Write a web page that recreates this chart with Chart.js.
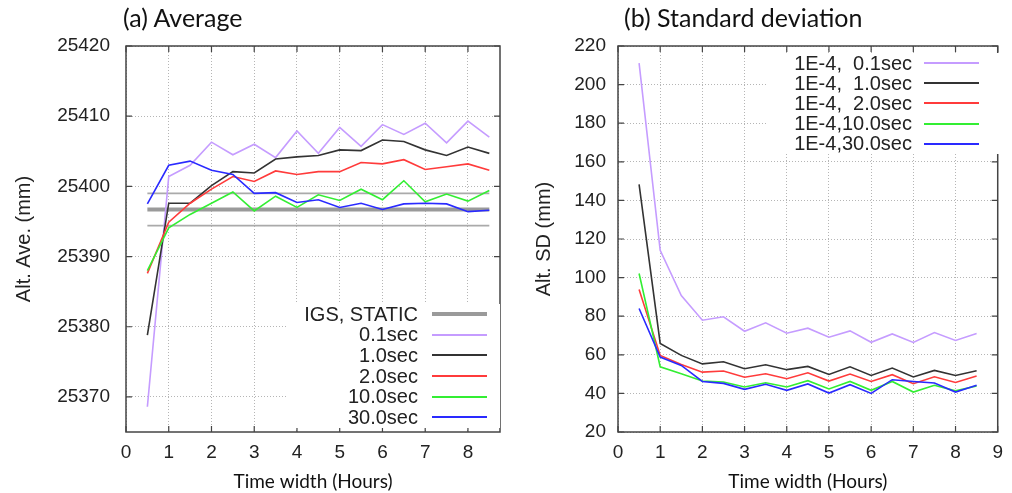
<!DOCTYPE html>
<html>
<head>
<meta charset="utf-8">
<script src="https://cdn.jsdelivr.net/npm/chart.js@4.4.1/dist/chart.umd.min.js"></script>
<style>
body { margin: 0; background: #fff; }
#wrap { position: relative; width: 1012px; height: 493px; overflow: hidden; }
canvas { position: absolute; top: 0; }
.ttl { position: absolute; top: 2px; font-family: Lato, sans-serif; font-size: 25px; color: #111; white-space: pre; }
.key { position: absolute; background: #fff; font-family: "Liberation Sans", sans-serif; font-size: 20px; color: #222; }
.key .row { display: flex; align-items: center; justify-content: flex-end; }
.key .t { white-space: pre; }
.key .l { display: inline-block; width: 55px; }
</style>
</head>
<body>
<div id="wrap">
  <canvas id="aveChart" style="left:0" width="506" height="493"></canvas>
  <canvas id="sdChart" style="left:506px" width="506" height="493"></canvas>
  <div class="ttl" style="left:123px">(a) Average</div>
  <div class="ttl" style="left:624px">(b) Standard deviation</div>
  <div class="key" id="aveKey" style="left:288px;top:304px;width:212px"></div>
  <div class="key" id="sdKey" style="left:766px;top:53px;width:236px"></div>
</div>
<script>
// time widths (hours)
const hours = [0.5, 1, 1.5, 2, 2.5, 3, 3.5, 4, 4.5, 5, 5.5, 6, 6.5, 7, 7.5, 8, 8.5];
const aveHourTicks = [0, 1, 2, 3, 4, 5, 6, 7, 8];
const sdHourTicks = [0, 1, 2, 3, 4, 5, 6, 7, 8, 9];
const igsSpan = [0.5, 8.5];
const igsLevels = [25396.7, 25399.0, 25394.4]; // mean, upper, lower

// (a) average altitude, mm
const ave01 = [25368.6, 25401.4, 25403.0, 25406.3, 25404.5, 25406.0, 25404.1, 25407.9, 25404.7, 25408.4, 25405.7, 25408.8, 25407.4, 25409.0, 25406.2, 25409.3, 25407.0];
const ave10 = [25378.8, 25397.6, 25397.6, 25400.1, 25402.1, 25401.9, 25403.9, 25404.2, 25404.4, 25405.2, 25405.1, 25406.6, 25406.4, 25405.2, 25404.4, 25405.6, 25404.7];
const ave20 = [25387.6, 25394.9, 25397.6, 25399.6, 25401.4, 25400.7, 25402.2, 25401.7, 25402.1, 25402.1, 25403.4, 25403.2, 25403.8, 25402.4, 25402.8, 25403.2, 25402.3];
const ave100 = [25388.0, 25394.1, 25396.0, 25397.6, 25399.2, 25396.5, 25398.6, 25397.0, 25398.8, 25398.0, 25399.6, 25398.1, 25400.8, 25397.8, 25398.9, 25397.9, 25399.4];
const ave300 = [25397.5, 25403.0, 25403.6, 25402.3, 25401.7, 25399.0, 25399.1, 25397.7, 25398.1, 25397.0, 25397.6, 25396.7, 25397.5, 25397.6, 25397.5, 25396.4, 25396.6];

// (b) standard deviation, mm
const sd01 = [211.1, 114.1, 90.7, 77.9, 79.7, 72.2, 76.6, 71.2, 73.8, 69.1, 72.4, 66.5, 70.8, 66.4, 71.5, 67.4, 71.0];
const sd10 = [148.3, 65.9, 59.7, 55.3, 56.4, 52.8, 54.8, 52.3, 54.0, 49.8, 53.8, 49.3, 53.1, 48.5, 51.9, 49.3, 51.7];
const sd20 = [93.8, 59.7, 55.0, 51.0, 51.6, 48.4, 50.2, 47.6, 50.7, 46.4, 50.0, 46.2, 49.7, 45.0, 48.6, 45.7, 49.0];
const sd100 = [102.1, 53.8, 50.2, 46.4, 45.9, 43.3, 45.5, 43.3, 46.6, 42.3, 46.2, 41.6, 46.2, 40.7, 44.2, 41.3, 43.8];
const sd300 = [84.0, 58.8, 54.5, 46.2, 45.2, 42.1, 44.7, 41.6, 44.9, 40.2, 44.5, 40.0, 47.1, 46.2, 45.4, 40.7, 44.2];

const aveLabels = ['IGS, STATIC', '0.1sec', '1.0sec', '2.0sec', '10.0sec', '30.0sec'];
const sdLabels = ['1E-4,  0.1sec', '1E-4,  1.0sec', '1E-4,  2.0sec', '1E-4,10.0sec', '1E-4,30.0sec'];
const lineColors = ['#c59cff', '#333333', '#ff3b3b', '#33ee33', '#2a2aff'];
const igsColor = '#9a9a9a';

const tickFont = { family: 'Liberation Sans', size: 19 };
const titleFont = { family: 'Liberation Sans', size: 20 };

function pts(vals) {
    return hours.map((h, i) => ({ x: h, y: vals[i] }));
}

function flat(level) {
    return igsSpan.map(h => ({ x: h, y: level }));
}

function series(label, vals, color, order) {
    return { label: label, data: pts(vals), borderColor: color, borderWidth: 1.6, pointRadius: 0, fill: false, tension: 0, order: order };
}

// frame with inward tick marks, like gnuplot
const frame = {
    id: 'frame',
    afterDatasetsDraw(chart) {
        const { ctx, chartArea: a, scales } = chart;
        ctx.save();
        ctx.strokeStyle = '#444';
        ctx.lineWidth = 1.5;
        ctx.strokeRect(a.left, a.top, a.right - a.left, a.bottom - a.top);
        ctx.lineWidth = 1.2;
        ctx.beginPath();
        scales.x.ticks.forEach(t => {
            const px = scales.x.getPixelForValue(t.value);
            ctx.moveTo(px, a.bottom); ctx.lineTo(px, a.bottom - 6);
            ctx.moveTo(px, a.top); ctx.lineTo(px, a.top + 6);
        });
        scales.y.ticks.forEach(t => {
            const py = scales.y.getPixelForValue(t.value);
            ctx.moveTo(a.left, py); ctx.lineTo(a.left + 6, py);
            ctx.moveTo(a.right, py); ctx.lineTo(a.right - 6, py);
        });
        ctx.stroke();
        ctx.restore();
    }
};

function axes(cfg) {
    const grid = { color: '#b5b5b5', lineWidth: 1, drawTicks: false };
    const border = { display: false, dash: [1, 2] };
    return {
        x: {
            type: 'linear', min: 0, max: cfg.xMax,
            grid: grid, border: border,
            ticks: { font: tickFont, color: '#222', padding: 9, maxRotation: 0, autoSkip: false },
            afterBuildTicks: s => { s.ticks = cfg.xTicks.map(v => ({ value: v })); },
            afterFit: s => { s.height = 61; },
            title: { display: true, text: 'Time width (Hours)', font: { family: 'Lato', size: 19 }, color: '#111', padding: { top: 0, bottom: 0 } }
        },
        y: {
            type: 'linear', min: cfg.yMin, max: cfg.yMax,
            grid: grid, border: border,
            ticks: { stepSize: cfg.yStep, font: tickFont, color: '#222', padding: cfg.tickPad, callback: v => String(v) },
            afterBuildTicks: s => { s.ticks = s.ticks.filter(t => t.value % cfg.yStep === 0); },
            afterFit: s => { s.width = cfg.yWidth; },
            title: { display: true, text: cfg.yTitle, font: titleFont, color: '#222', padding: { top: cfg.titlePad, bottom: 0 } }
        }
    };
}

function baseOptions(cfg) {
    return {
        responsive: false,
        animation: false,
        layout: { padding: { left: 0, top: 46, right: cfg.padRight, bottom: 0 } },
        plugins: { legend: { display: false }, tooltip: { enabled: false } },
        scales: axes(cfg)
    };
}

const aveDatasets = [
    { label: aveLabels[0], data: flat(igsLevels[0]), borderColor: igsColor, borderWidth: 4, pointRadius: 0, order: 10 },
    { label: 'upper', data: flat(igsLevels[1]), borderColor: '#aaaaaa', borderWidth: 1.6, pointRadius: 0, order: 11 },
    { label: 'lower', data: flat(igsLevels[2]), borderColor: '#aaaaaa', borderWidth: 1.6, pointRadius: 0, order: 11 },
    series(aveLabels[1], ave01, lineColors[0], 5),
    series(aveLabels[2], ave10, lineColors[1], 4),
    series(aveLabels[3], ave20, lineColors[2], 3),
    series(aveLabels[4], ave100, lineColors[3], 2),
    series(aveLabels[5], ave300, lineColors[4], 1)
];

const sdDatasets = [
    series(sdLabels[0], sd01, lineColors[0], 5),
    series(sdLabels[1], sd10, lineColors[1], 4),
    series(sdLabels[2], sd20, lineColors[2], 3),
    series(sdLabels[3], sd100, lineColors[3], 2),
    series(sdLabels[4], sd300, lineColors[4], 1)
];

new Chart(document.getElementById('aveChart'), {
    type: 'line',
    data: { datasets: aveDatasets },
    options: baseOptions({ xMax: 8.75, xTicks: aveHourTicks, yMin: 25365, yMax: 25420, yStep: 10, yTitle: 'Alt. Ave. (mm)', yWidth: 126, tickPad: 16, titlePad: 12, padRight: 6 }),
    plugins: [frame]
});

new Chart(document.getElementById('sdChart'), {
    type: 'line',
    data: { datasets: sdDatasets },
    options: baseOptions({ xMax: 9, xTicks: sdHourTicks, yMin: 20, yMax: 220, yStep: 20, yTitle: 'Alt. SD (mm)', yWidth: 112, tickPad: 12, titlePad: 26, padRight: 9 }),
    plugins: [frame]
});

// legends: text on the left, line sample on the right
function buildKey(id, labels, colors, widths, rowH, gap, padR) {
    const box = document.getElementById(id);
    labels.forEach((lab, i) => {
        const row = document.createElement('div');
        row.className = 'row';
        row.style.height = rowH + 'px';
        row.style.paddingRight = padR + 'px';
        const t = document.createElement('span');
        t.className = 't';
        t.textContent = lab;
        const l = document.createElement('span');
        l.className = 'l';
        l.style.marginLeft = gap + 'px';
        l.style.height = widths[i] + 'px';
        l.style.background = colors[i];
        row.appendChild(t);
        row.appendChild(l);
        box.appendChild(row);
    });
}

buildKey('aveKey', aveLabels, [igsColor].concat(lineColors), [4, 2, 2, 2, 2, 2], 20.6, 14, 13);
buildKey('sdKey', sdLabels, lineColors, [2, 2, 2, 2, 2], 20.2, 12, 23);
</script>
</body>
</html>
